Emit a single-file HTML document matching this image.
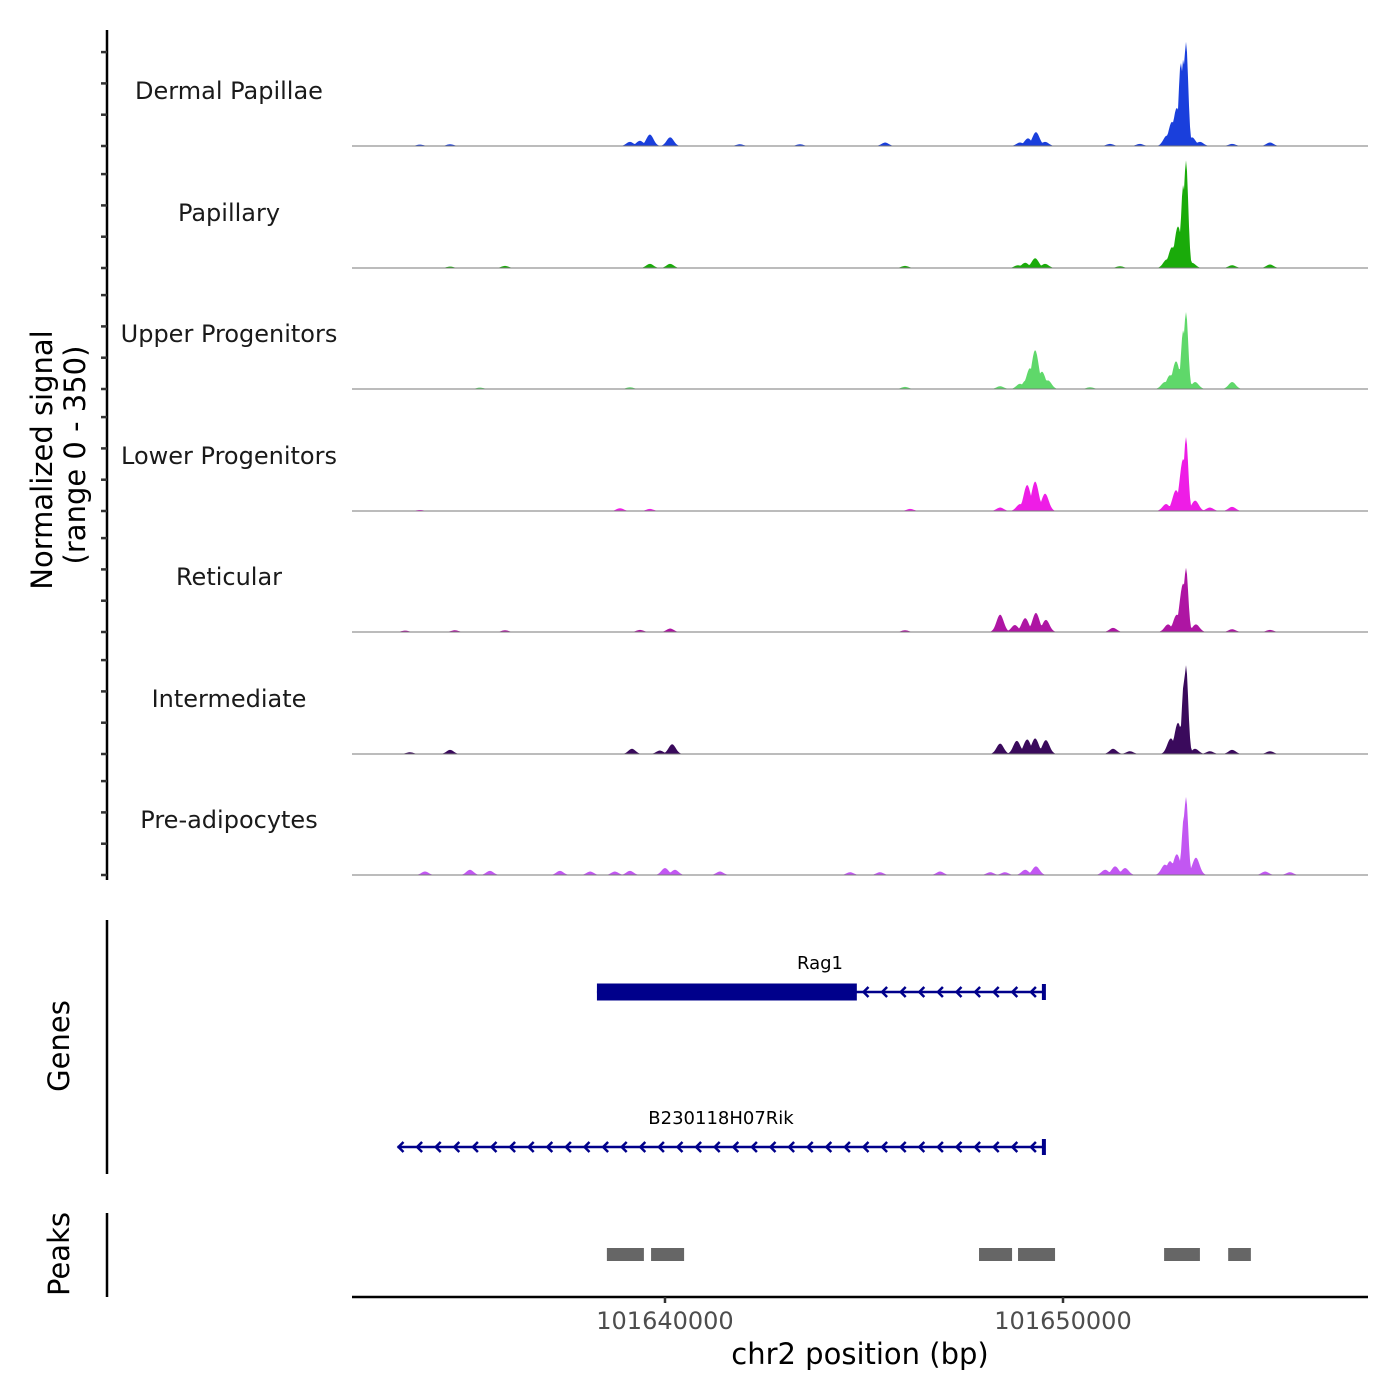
<!DOCTYPE html>
<html><head><meta charset="utf-8"><style>
html,body{margin:0;padding:0;background:#fff;}
svg{display:block;font-family:"DejaVu Sans","Liberation Sans",sans-serif;}
</style></head><body>
<svg id="chart" width="1400" height="1400" viewBox="0 0 1400 1400">
<g id="tracks"></g>
<g id="genes"></g>
<g id="peaks"></g>
<g id="axes"></g>
</svg>
<script>
// ---- data ----
const REGION_START = 101632136, REGION_END = 101657663;
const xTicks = [101640000, 101650000];
const trackNames = ["Dermal Papillae","Papillary","Upper Progenitors","Lower Progenitors","Reticular","Intermediate","Pre-adipocytes"];
const trackColors = ["#1a3fdc","#1aab0a","#5fd86a","#ee1de6","#ae15a3","#3a0a5c","#c257f2"];
const signalMax = 350;
// peaks: [kb offset from 101640000, signal]
const dpPeaks = [[13.09,300],[13.02,250],[12.96,240],[12.86,110],[12.74,70],[12.61,30],[13.24,25],[13.44,12],[9.32,40],[9.12,22],[9.55,12],[8.92,10],[-0.38,33],[-0.63,15],[0.13,25],[-0.88,12],[5.53,10],[15.20,10],[11.18,6],[11.93,6],[-6.16,4],[1.88,5],[3.39,5],[-5.40,5],[14.25,6]];
const papPeaks = [[13.09,310],[13.02,240],[12.89,120],[12.74,60],[12.61,25],[13.24,15],[9.30,28],[9.05,15],[9.55,12],[8.87,8],[-0.38,12],[0.13,12],[-4.02,6],[-5.40,4],[6.03,6],[14.25,8],[15.20,10],[11.43,5]];
const upPeaks = [[13.09,222],[13.02,170],[12.84,80],[12.69,40],[12.56,20],[13.32,20],[9.30,112],[9.17,60],[9.47,50],[9.07,25],[9.62,25],[8.92,15],[8.42,8],[14.25,20],[10.68,5],[6.03,6],[-0.88,5],[-4.65,4]];
const lpPeaks = [[13.09,213],[13.02,150],[12.84,60],[12.59,20],[13.32,30],[9.10,75],[9.30,85],[9.55,50],[8.92,20],[8.42,10],[13.69,10],[14.25,12],[-1.13,8],[-0.38,6],[6.16,6],[-6.16,3]];
const retPeaks = [[13.09,185],[13.02,140],[12.86,50],[12.64,22],[13.34,22],[8.42,50],[9.05,40],[9.32,55],[9.57,35],[8.79,20],[11.26,12],[0.13,10],[-0.63,6],[-4.02,5],[-5.28,5],[-6.53,4],[14.25,8],[15.20,6],[6.03,5]];
const intPeaks = [[13.09,256],[13.04,210],[12.89,90],[12.71,45],[13.32,15],[8.42,30],[8.84,38],[9.10,42],[9.30,45],[9.57,40],[11.26,15],[11.68,8],[0.18,28],[-0.13,10],[-0.83,15],[-5.40,12],[-6.41,5],[14.25,12],[15.20,8],[13.69,8]];
const prePeaks = [[13.09,225],[13.04,170],[12.86,60],[12.69,40],[12.56,30],[13.34,50],[9.32,25],[9.05,15],[11.31,25],[11.06,15],[11.56,20],[0.0,20],[0.25,15],[-0.88,12],[-1.26,10],[-2.64,12],[-1.88,10],[-4.90,15],[-4.40,12],[-6.03,10],[1.38,10],[4.65,8],[5.40,8],[6.91,10],[8.17,8],[8.54,8],[15.08,10],[15.70,8]];
const allPeaks = [dpPeaks,papPeaks,upPeaks,lpPeaks,retPeaks,intPeaks,prePeaks];
// genes (minus strand)
const geneNames = ["Rag1","B230118H07Rik"];
const geneStarts = [101638290, 101633280];
const geneEnds = [101649520, 101649520];
const cdsStarts = [101638290, null];
const cdsEnds = [101644820, null];
const peakStarts = [101638540,101639650,101647890,101648870,101652540,101654150];
const peakEnds = [101639470,101640480,101648720,101649800,101653440,101654720];

// ---- scales ----
const X0=352, X1=1368;
const xs = bp => X0 + (bp-REGION_START)/(REGION_END-REGION_START)*(X1-X0);
const baselines=[146,268,389,511,632,754,875];
const trackH=121.5;
const ys = (i,v) => baselines[i] - v/signalMax*trackH;
const NS="http://www.w3.org/2000/svg";
function mk(tag,attrs,parent){const e=document.createElementNS(NS,tag);for(const k in attrs)e.setAttribute(k,attrs[k]);parent.appendChild(e);return e;}

const tracks=document.getElementById('tracks');
allPeaks.forEach((pk,i)=>{
  const g=mk('g',{},tracks);
  
  
  const lbl=mk('text',{x:229,y:baselines[i]-47,'text-anchor':'middle','font-size':24,fill:'#1a1a1a'},g);
  lbl.textContent=trackNames[i];
  
  
  let d='M'+X0+','+baselines[i];
  for(let px=X0;px<=X1;px+=1){
    const bp=REGION_START+(px-X0)/(X1-X0)*(REGION_END-REGION_START);
    let v=0;
    pk.forEach(p=>{const c=101640000+p[0]*1000;const sig=p[1]>150?55:90;const dd=(bp-c)/sig;const val=p[1]*Math.exp(-0.5*dd*dd);if(val>v)v=val;});
    d+=' L'+px+','+ys(i,v).toFixed(2);
  }
  d+=' L'+X1+','+baselines[i]+' Z';
  const path=mk('path',{d:d,fill:trackColors[i],stroke:'none'},g);
  
  
  const bl=mk('line',{x1:X0,x2:X1,y1:baselines[i],y2:baselines[i],stroke:'#7a7a7a','stroke-width':1},g);
  
  
});

// genes
const genes=document.getElementById('genes');
const geneY=[992,1147];
const geneLabelX=[820,721];
geneNames.forEach((n,i)=>{
  const g=mk('g',{},genes);
  
  
  const a=xs(geneStarts[i]), b=xs(geneEnds[i]), y=geneY[i];
  mk('line',{x1:a,x2:b,y1:y,y2:y,stroke:'#00008b','stroke-width':2.5},g);
  mk('line',{x1:b,x2:b,y1:y-8,y2:y+8,stroke:'#00008b','stroke-width':4},g);
  for(let x=b-13;x>a;x-=18.6){
    mk('polyline',{points:(x+5)+','+(y-5)+' '+x+','+y+' '+(x+5)+','+(y+5),fill:'none',stroke:'#00008b','stroke-width':2.5},g);
  }
  if(cdsStarts[i]!==null){
    mk('rect',{x:xs(cdsStarts[i]),y:y-8.5,width:xs(cdsEnds[i])-xs(cdsStarts[i]),height:17,fill:'#00008b'},g);
  }
  const t=mk('text',{x:geneLabelX[i],y:y-23,'text-anchor':'middle','font-size':18,fill:'#000'},g);
  t.textContent=n;
  
  
});

// peaks
const peaksG=document.getElementById('peaks');
peakStarts.forEach((s,i)=>{
  const r=mk('rect',{x:xs(s),y:1248,width:xs(peakEnds[i])-xs(s),height:13,fill:'#666666'},peaksG);
  
  
});

// axes
const axes=document.getElementById('axes');
const yl=mk('line',{x1:107,x2:107,y1:30,y2:880,stroke:'#000','stroke-width':2.5},axes);


baselines.forEach(b=>{
  for(let k=0;k<4;k++){
    mk('line',{x1:101,x2:107,y1:b-k*31.3,y2:b-k*31.3,stroke:'#333','stroke-width':2.5},axes);
  }
});
const yt=mk('text',{transform:'translate(52,460) rotate(-90)','text-anchor':'middle','font-size':29,fill:'#000'},axes);
yt.textContent='Normalized signal';


const yt2=mk('text',{transform:'translate(85,455) rotate(-90)','text-anchor':'middle','font-size':29,fill:'#000'},axes);
yt2.textContent='(range 0 - 350)';



mk('line',{x1:107,x2:107,y1:920,y2:1174,stroke:'#000','stroke-width':2.5},axes);
const gt=mk('text',{transform:'translate(69,1046) rotate(-90)','text-anchor':'middle','font-size':29,fill:'#000'},axes);
gt.textContent='Genes';


mk('line',{x1:107,x2:107,y1:1213,y2:1297,stroke:'#000','stroke-width':2.5},axes);
const pt=mk('text',{transform:'translate(69,1254) rotate(-90)','text-anchor':'middle','font-size':29,fill:'#000'},axes);
pt.textContent='Peaks';



const xl=mk('line',{x1:X0,x2:X1,y1:1297,y2:1297,stroke:'#000','stroke-width':2.5},axes);


xTicks.forEach(t=>{
  mk('line',{x1:xs(t),x2:xs(t),y1:1297,y2:1303,stroke:'#333','stroke-width':2.5},axes);
  const tl=mk('text',{x:xs(t),y:1329,'text-anchor':'middle','font-size':24,fill:'#4d4d4d'},axes);
  tl.textContent=String(t);
  
  
});
const xt=mk('text',{x:860,y:1364,'text-anchor':'middle','font-size':29,fill:'#000'},axes);
xt.textContent='chr2 position (bp)';


</script>
</body></html>
